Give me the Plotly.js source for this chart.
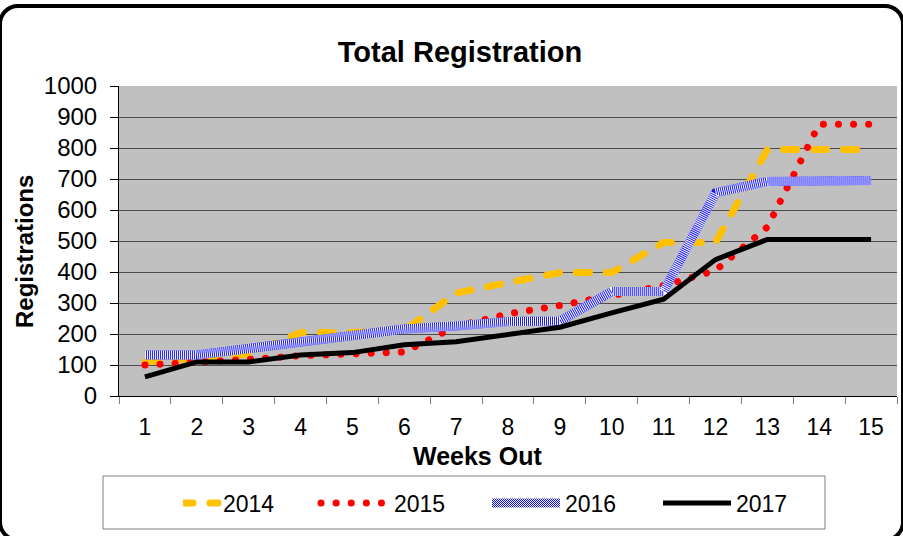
<!DOCTYPE html>
<html>
<head>
<meta charset="utf-8">
<script src="https://cdn.plot.ly/plotly-3.0.1.min.js"></script>
<style>
  html, body { margin: 0; padding: 0; background: #fff; }
  #wrap { position: relative; width: 903px; height: 536px; overflow: hidden; }
  #chart { position: absolute; left: 0; top: 0; width: 903px; height: 536px; }
  #frame { position: absolute; left: -2px; top: 4px; width: 907px; height: 538px;
           box-sizing: border-box; border: 4px solid #000; border-radius: 20px; pointer-events: none; }
</style>
</head>
<body>
<div id="wrap">
  <div id="chart"></div>
  <div id="frame"></div>
</div>
<script>
// ---- data ----
const weeks = ['1','2','3','4','5','6','7','8','9','10','11','12','13','14','15'];
const seriesNames = ['2014', '2015', '2016', '2017'];
const reg2014 = [110, 122, 135, 205, 205, 212, 332, 366, 398, 398, 495, 495, 795, 795, 795];
const reg2015 = [100, 108, 118, 130, 138, 142, 225, 265, 292, 322, 356, 405, 545, 877, 877];
const reg2016 = [132, 132, 153, 174, 194, 216, 226, 240, 242, 337, 337, 655, 692, 695, 695];
const reg2017 = [62, 110, 110, 132, 140, 165, 175, 200, 222, 268, 312, 440, 505, 505, 505];
const yTicks = [0, 100, 200, 300, 400, 500, 600, 700, 800, 900, 1000];

const FONT = 'Arial, "Liberation Sans", sans-serif';

const data = [
  { x: weeks, y: reg2014, name: seriesNames[0], type: 'scatter', mode: 'lines',
    line: { color: '#FFC000', width: 7, dash: '13px,17px' } },
  { x: weeks, y: reg2015, name: seriesNames[1], type: 'scatter', mode: 'lines',
    line: { color: '#FF0000', width: 7, dash: '1px,14px' } },
  { x: weeks, y: reg2016, name: seriesNames[2], type: 'scatter', mode: 'lines',
    line: { color: '#1A1AFF', width: 9 } },
  // white texture over the 2016 band (same values), not in legend
  { x: weeks, y: reg2016, name: seriesNames[2], type: 'scatter', mode: 'lines', showlegend: false,
    hoverinfo: 'skip', line: { color: '#FFFFFF', width: 9, dash: '1px,1px' } },
  { x: weeks, y: reg2017, name: seriesNames[3], type: 'scatter', mode: 'lines',
    line: { color: '#000000', width: 5 } }
];

const plotL = 119, plotR = 897, plotT = 86, plotB = 396;
const pw = plotR - plotL, ph = plotB - plotT;
const px = v => (v - plotL) / pw;
const py = v => (plotB - v) / ph;

const layout = {
  width: 903, height: 536,
  margin: { l: plotL, r: 903 - plotR, t: plotT, b: 536 - plotB },
  paper_bgcolor: '#FFFFFF',
  plot_bgcolor: '#C0C0C0',
  font: { family: FONT, color: '#000' },
  title: { text: '<b>Total Registration</b>', font: { family: FONT, size: 29, color: '#000' },
           x: 460 / 903, xanchor: 'center', y: 1 - 52 / 536, yanchor: 'middle' },
  xaxis: {
    type: 'category', range: [-0.5, 14.5], tickson: 'boundaries', ticks: 'outside', ticklen: 7, tickcolor: '#808080',
    showline: true, linecolor: '#000', linewidth: 1, showgrid: false, zeroline: false,
    tickfont: { family: FONT, size: 23, color: '#000' }, ticklabelstandoff: 10
  },
  yaxis: {
    range: [0, 1000], tickvals: yTicks, ticktext: yTicks.map(String),
    ticks: 'outside', ticklen: 8, tickcolor: '#000',
    showline: true, linecolor: '#000', linewidth: 1,
    showgrid: true, gridcolor: '#4D4D4D', gridwidth: 1, zeroline: false,
    tickfont: { family: FONT, size: 24, color: '#000' }, ticklabelstandoff: 8
  },
  annotations: [
    { text: '<b>Weeks Out</b>', xref: 'paper', yref: 'paper', x: px(477), y: py(456),
      xanchor: 'center', yanchor: 'middle', showarrow: false, font: { family: FONT, size: 25, color: '#000' } },
    { text: '<b>Registrations</b>', xref: 'paper', yref: 'paper', x: px(25), y: py(252), textangle: -90,
      xanchor: 'center', yanchor: 'middle', showarrow: false, font: { family: FONT, size: 24, color: '#000' } }
  ],
  showlegend: true,
  legend: {
    orientation: 'h', x: px(183), xanchor: 'left', y: py(503), yanchor: 'middle',
    font: { family: FONT, size: 23, color: '#000' },
    bgcolor: 'rgba(0,0,0,0)', borderwidth: 0,
    entrywidth: 126, entrywidthmode: 'pixels'
  },
  shapes: [
    { type: 'rect', xref: 'paper', yref: 'paper', x0: px(103), x1: px(825), y0: py(529), y1: py(476),
      line: { color: '#808080', width: 1 }, fillcolor: 'rgba(0,0,0,0)', layer: 'below' }
  ]
};

Plotly.newPlot('chart', data, layout, { staticPlot: true, displayModeBar: false }).then(gd => {
  const ns = 'http://www.w3.org/2000/svg';
  const legendSvg = gd.querySelector('.legend').ownerSVGElement;
  let defs = legendSvg.querySelector('defs');
  if (!defs) { defs = document.createElementNS(ns, 'defs'); legendSvg.insertBefore(defs, legendSvg.firstChild); }
  const pat = document.createElementNS(ns, 'pattern');
  pat.setAttribute('id', 'chk');
  pat.setAttribute('width', '2'); pat.setAttribute('height', '2');
  pat.setAttribute('patternUnits', 'userSpaceOnUse');
  [[0,0,2,2,'#FFFFFF'],[0,0,1,1,'#0000FF'],[1,1,1,1,'#0000FF']].forEach(r => {
    const e = document.createElementNS(ns, 'rect');
    e.setAttribute('x', r[0]); e.setAttribute('y', r[1]);
    e.setAttribute('width', r[2]); e.setAttribute('height', r[3]);
    e.setAttribute('fill', r[4]);
    pat.appendChild(e);
  });
  defs.appendChild(pat);

  const traces = gd.querySelectorAll('.scatterlayer .trace');
  const legendItems = gd.querySelectorAll('.legend .traces');
  const plotStyle = (i, fn) => { if (traces[i]) traces[i].querySelectorAll('path.js-line').forEach(fn); };
  const legStyle = (i, fn) => { if (legendItems[i]) legendItems[i].querySelectorAll('.legendlines path').forEach(fn); };
  // longer legend keys, as in the reference
  legendItems.forEach(it => it.querySelectorAll('.legendlines path').forEach(p => p.setAttribute('d', 'M-33,0h68')));
  plotStyle(0, p => { p.style.strokeLinecap = 'round'; });
  legStyle(0, p => { p.style.strokeLinecap = 'round'; });
  plotStyle(1, p => { p.style.strokeLinecap = 'round'; p.style.strokeDasharray = '0.1px,15px'; });
  legStyle(1, p => { p.style.strokeLinecap = 'round'; p.style.strokeDasharray = '0.1px,15px'; });
  legStyle(2, p => { p.style.stroke = 'url(#chk)'; });
});
</script>
</body>
</html>
